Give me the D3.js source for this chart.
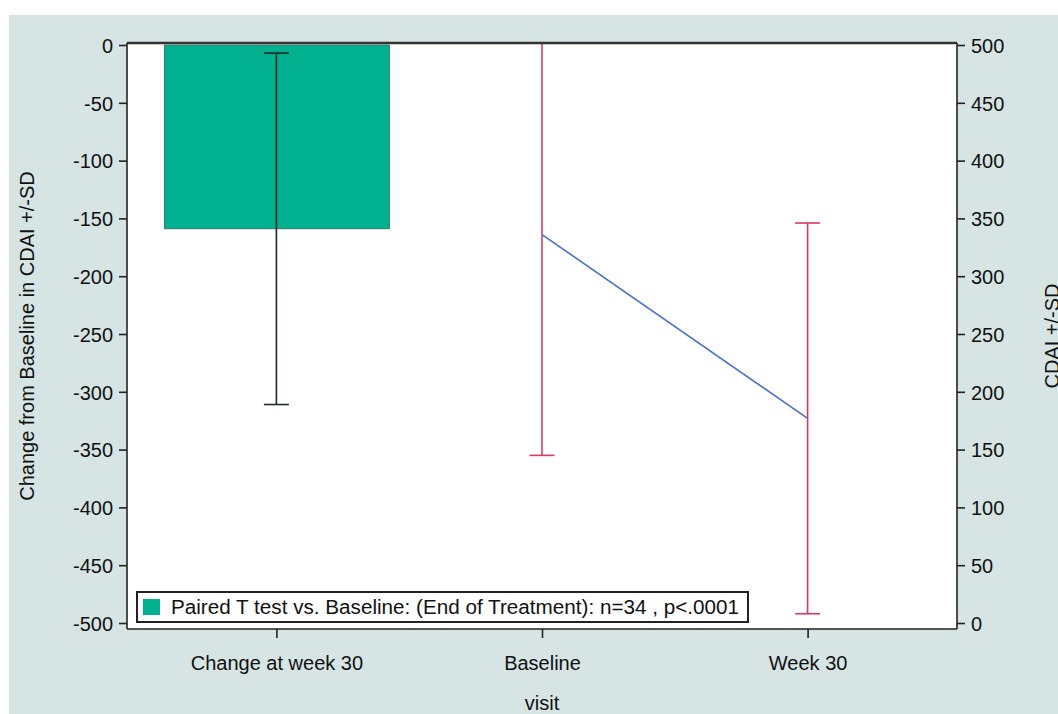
<!DOCTYPE html>
<html><head><meta charset="utf-8">
<script src="https://cdn.jsdelivr.net/npm/d3@7"></script>
<style>body{margin:0;background:#fff;} svg{display:block;} text{font-family:"Liberation Sans",Arial,sans-serif;fill:#111;}</style>
</head><body>
<svg id="chart" width="1058" height="714"></svg>
<script>
const categories = ["Change at week 30", "Baseline", "Week 30"];
// change from baseline (left axis)
const changeMean = [-159];
const changeSD = [152];
// CDAI values (right axis)
const cdaiVisits = ["Baseline", "Week 30"];
const cdaiMean = [336, 177];
const cdaiSD = [191, 169];
const leftTicks = [0,-50,-100,-150,-200,-250,-300,-350,-400,-450,-500];
const rightTicks = [0,50,100,150,200,250,300,350,400,450,500];
const legendText = "Paired T test vs. Baseline: (End of Treatment): n=34 , p<.0001";

const FS = 20;
const svg = d3.select("#chart");
const L = 127, R = 957, T = 43, B = 629;

svg.append("rect").attr("x",9).attr("y",15).attr("width",1049).attr("height",699).attr("fill","#d6e4e4");
svg.append("rect").attr("x",L).attr("y",T).attr("width",R-L).attr("height",B-T).attr("fill","#fff");

const x = d3.scalePoint().domain(categories).range([L,R]).padding(0.5625);
const yL = d3.scaleLinear().domain([-500,0]).range([623,45]);
const yR = d3.scaleLinear().domain([0,500]).range([623,45]);

const plot = svg.append("g");
const clipId = "pclip";
svg.append("defs").append("clipPath").attr("id",clipId).append("rect").attr("x",L).attr("y",T).attr("width",R-L).attr("height",B-T);
const clipped = plot.append("g").attr("clip-path",`url(#${clipId})`);

// bar
const bw = 225;
clipped.selectAll("rect.bar").data(changeMean).join("rect")
  .attr("x", (d,i)=>x(categories[i]) - bw/2 + 0.5).attr("width", bw)
  .attr("y", d=>yL(0)).attr("height", d=>yL(d)-yL(0))
  .attr("fill","#00b08e").attr("stroke","#3a6b60").attr("stroke-width",0.8);

// bar error bars
const cap = 12.5;
changeMean.forEach((m,i)=>{
  const cx = x(categories[i]);
  const g = clipped.append("g").attr("stroke","#1d2b2b").attr("stroke-width",1.6);
  g.append("line").attr("x1",cx).attr("x2",cx).attr("y1",yL(m+changeSD[i])).attr("y2",yL(m-changeSD[i]));
  g.append("line").attr("x1",cx-cap).attr("x2",cx+cap).attr("y1",yL(m+changeSD[i])).attr("y2",yL(m+changeSD[i]));
  g.append("line").attr("x1",cx-cap).attr("x2",cx+cap).attr("y1",yL(m-changeSD[i])).attr("y2",yL(m-changeSD[i]));
});

// red error bars
cdaiVisits.forEach((v,i)=>{
  const cx = x(v), m = cdaiMean[i], s = cdaiSD[i];
  const g = clipped.append("g").attr("stroke","#e0385f").attr("stroke-width",1.6);
  g.append("line").attr("x1",cx).attr("x2",cx).attr("y1",yR(m+s)).attr("y2",yR(m-s));
  g.append("line").attr("x1",cx-cap).attr("x2",cx+cap).attr("y1",yR(m+s)).attr("y2",yR(m+s));
  g.append("line").attr("x1",cx-cap).attr("x2",cx+cap).attr("y1",yR(m-s)).attr("y2",yR(m-s));
});

// blue line
const line = d3.line().x((d,i)=>x(cdaiVisits[i])).y(d=>yR(d));
clipped.append("path").datum(cdaiMean).attr("d",line).attr("fill","none").attr("stroke","#4a6fd2").attr("stroke-width",1.6);

// frame
svg.append("line").attr("x1",L).attr("x2",R).attr("y1",T).attr("y2",T).attr("stroke","#333").attr("stroke-width",2.5);
svg.append("line").attr("x1",L).attr("x2",R).attr("y1",B).attr("y2",B).attr("stroke","#222").attr("stroke-width",1.6);
svg.append("line").attr("x1",L).attr("x2",L).attr("y1",T).attr("y2",B).attr("stroke","#222").attr("stroke-width",1.6);
svg.append("line").attr("x1",R).attr("x2",R).attr("y1",T).attr("y2",B).attr("stroke","#222").attr("stroke-width",1.6);

// axes
const fmt = d => String(d);
const axL = d3.axisLeft(yL).tickValues(leftTicks).tickSize(8).tickPadding(6).tickFormat(fmt);
const gL = svg.append("g").attr("transform",`translate(${L},0)`).call(axL);
const axR = d3.axisRight(yR).tickValues(rightTicks).tickSize(8).tickPadding(6).tickFormat(fmt);
const gR = svg.append("g").attr("transform",`translate(${R},0)`).call(axR);
const axB = d3.axisBottom(x).tickSize(9).tickPadding(18);
const gB = svg.append("g").attr("transform",`translate(0,${B})`).call(axB);
[gL,gR,gB].forEach(g=>{
  g.select(".domain").remove();
  g.selectAll(".tick line").attr("stroke","#222").attr("stroke-width",1.6);
  g.selectAll(".tick text").attr("font-size",FS).attr("fill","#111").attr("font-family","Liberation Sans, Arial, sans-serif");
});
gL.selectAll(".tick text").attr("dy","0.36em");
gR.selectAll(".tick text").attr("dy","0.36em");

// titles
svg.append("text").attr("transform","translate(34,336) rotate(-90)").attr("text-anchor","middle").attr("font-size",FS).text("Change from Baseline in CDAI +/-SD");
svg.append("text").attr("transform","translate(1059,336) rotate(-90)").attr("text-anchor","middle").attr("font-size",FS).text("CDAI +/-SD");
svg.append("text").attr("x",x("Baseline")).attr("y",710).attr("text-anchor","middle").attr("font-size",FS).text("visit");

// legend
const lg = svg.append("g");
lg.append("rect").attr("x",137).attr("y",592).attr("width",611).attr("height",30).attr("fill","#fff").attr("stroke","#222").attr("stroke-width",2);
lg.append("rect").attr("x",143).attr("y",599).attr("width",17).attr("height",16).attr("fill","#00b08e");
lg.append("text").attr("x",171).attr("y",614).attr("font-size",FS).attr("textLength",568).attr("lengthAdjust","spacingAndGlyphs").text(legendText);
</script>
</body></html>
